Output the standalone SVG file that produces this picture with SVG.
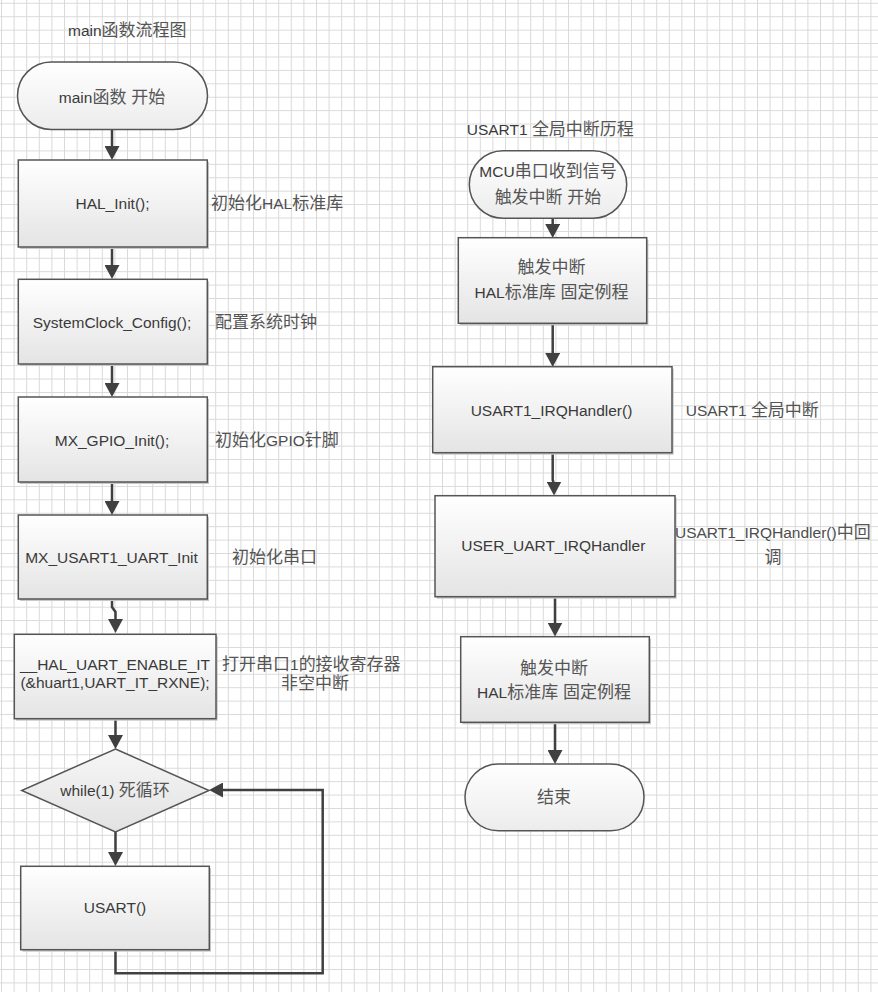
<svg xmlns="http://www.w3.org/2000/svg" width="878" height="992" viewBox="0 0 878 992">
<style>
text{font-family:"Liberation Sans","Noto Sans CJK SC",sans-serif;font-size:15.5px;fill:#3a3a3a}
.m{text-anchor:middle}
.lb{fill:#4d4d4d}
.c{font-size:17px;fill:#555}
.box{fill:url(#gBox);stroke:#555;stroke-width:1.5}
.term{fill:url(#gTerm);stroke:#555;stroke-width:1.5}
.dia{fill:url(#gDia);stroke:#555;stroke-width:1.5}
.sh{fill:#c8c8c8}
.cn{fill:none;stroke:#404040;stroke-width:2.5}
.ar{marker-end:url(#arr)}
</style>
<defs>
<pattern id="grid" patternUnits="userSpaceOnUse" x="1" y="2.8" width="12.6" height="13.42">
<path d="M0.5 0V13.42M0 0.5H12.6" fill="none" stroke="#d9d9d9" stroke-width="1"/>
</pattern>
<linearGradient id="gBox" x1="0" y1="0" x2="0" y2="1"><stop offset="0" stop-color="#ffffff"/><stop offset="1" stop-color="#e4e4e4"/></linearGradient>
<linearGradient id="gTerm" x1="0" y1="0" x2="0" y2="1"><stop offset="0" stop-color="#ffffff"/><stop offset="1" stop-color="#ececec"/></linearGradient>
<linearGradient id="gDia" x1="0" y1="0" x2="0" y2="1"><stop offset="0" stop-color="#f6f6f6"/><stop offset="1" stop-color="#e2e2e2"/></linearGradient>
<marker id="arr" markerUnits="userSpaceOnUse" viewBox="0 0 14 15" refX="4" refY="7.5" markerWidth="14" markerHeight="15" orient="auto">
<path d="M0 0L14 7.5L0 15z" fill="#404040"/>
</marker>
</defs>
<rect width="878" height="992" fill="#ffffff"/>
<rect width="878" height="992" fill="url(#grid)"/>

<text x="68" y="36">main<tspan class="c">函数流程图</tspan></text>
<text x="466.7" y="135">USART1 <tspan class="c">全局中断历程</tspan></text>

<g id="connectors">
<path class="cn ar" d="M112 129V150"/>
<path class="cn ar" d="M112 247V269"/>
<path class="cn ar" d="M112 364V387"/>
<path class="cn ar" d="M112 482V505"/>
<path class="cn ar" d="M112 599V607L115.5 612V623"/>
<path class="cn ar" d="M115.5 719V739"/>
<path class="cn ar" d="M115.5 832V856"/>
<path class="cn ar" d="M115.5 950V973.3H322.7V790H219"/>
<path class="cn ar" d="M552.7 218V228"/>
<path class="cn ar" d="M552.7 323V357"/>
<path class="cn ar" d="M552.7 453V480L554 484V485.5"/>
<path class="cn ar" d="M555 597V626.5"/>
<path class="cn ar" d="M555 722V754"/>
</g>

<g id="n_start">
<rect class="term" x="17.5" y="62" width="190" height="67.5" rx="33.7"/>
<text class="m" x="112" y="102.5">main<tspan class="c">函数 开始</tspan></text>
</g>
<g id="n_halinit">
<rect class="sh" x="20" y="162" width="189" height="87"/>
<rect class="box" x="18.3" y="160" width="189" height="87"/>
<text class="m" x="112.5" y="209">HAL_Init();</text>
<text class="lb" x="211" y="209"><tspan class="c">初始化</tspan>HAL<tspan class="c">标准库</tspan></text>
</g>
<g id="n_sysclk">
<rect class="sh" x="20" y="281.3" width="189" height="84.7"/>
<rect class="box" x="18.3" y="279.3" width="189" height="84.7"/>
<text class="m" x="112" y="328">SystemClock_Config();</text>
<text class="lb" x="215" y="328"><tspan class="c">配置系统时钟</tspan></text>
</g>
<g id="n_gpio">
<rect class="sh" x="20" y="399" width="189" height="85"/>
<rect class="box" x="18.3" y="397" width="189" height="85"/>
<text class="m" x="112" y="446">MX_GPIO_Init();</text>
<text class="lb" x="215" y="446"><tspan class="c">初始化</tspan>GPIO<tspan class="c">针脚</tspan></text>
</g>
<g id="n_usart_init">
<rect class="sh" x="20" y="517" width="189" height="84"/>
<rect class="box" x="18.3" y="515" width="189" height="84"/>
<text class="m" x="111.5" y="562.7">MX_USART1_UART_Init</text>
<text class="lb" x="232" y="563"><tspan class="c">初始化串口</tspan></text>
</g>
<g id="n_enable_it">
<rect class="sh" x="16" y="636.3" width="201.7" height="84.4"/>
<rect class="box" x="14.3" y="634.3" width="201.7" height="84.4"/>
<text class="m" x="115" y="669.5">__HAL_UART_ENABLE_IT</text>
<text class="m" x="115" y="687.5">(&amp;huart1,UART_IT_RXNE);</text>
<text class="lb" x="222" y="670"><tspan class="c">打开串口</tspan>1<tspan class="c">的接收寄存器</tspan></text>
<text class="lb m" x="315" y="689"><tspan class="c">非空中断</tspan></text>
</g>
<g id="n_while">
<path class="dia" d="M115.5 749L209 790.5L115.5 832L21.7 790.5z"/>
<text class="m" x="115" y="796">while(1) <tspan class="c">死循环</tspan></text>
</g>
<g id="n_usart">
<rect class="sh" x="22.4" y="868.3" width="188.6" height="83.4"/>
<rect class="box" x="20.7" y="866.3" width="188.6" height="83.4"/>
<text class="m" x="115" y="912.7">USART()</text>
</g>

<g id="n_irq_start">
<rect class="term" x="469.3" y="150.7" width="157.4" height="67.6" rx="33.8"/>
<text class="m" x="548" y="176.7">MCU<tspan class="c">串口收到信号</tspan></text>
<text class="m" x="548" y="202.7"><tspan class="c">触发中断 开始</tspan></text>
</g>
<g id="n_hal_fixed1">
<rect class="sh" x="460" y="239.7" width="188.4" height="85.6"/>
<rect class="box" x="458.3" y="237.7" width="188.4" height="85.6"/>
<text class="m" x="551.5" y="273.3"><tspan class="c">触发中断</tspan></text>
<text class="m" x="551.5" y="298.3">HAL<tspan class="c">标准库 固定例程</tspan></text>
</g>
<g id="n_irqhandler">
<rect class="sh" x="434.4" y="368.7" width="239.3" height="86"/>
<rect class="box" x="432.7" y="366.7" width="239.3" height="86"/>
<text class="m" x="551.5" y="415.7">USART1_IRQHandler()</text>
<text class="lb" x="685.7" y="416">USART1 <tspan class="c">全局中断</tspan></text>
</g>
<g id="n_user_irq">
<rect class="sh" x="436.7" y="497.7" width="240" height="101"/>
<rect class="box" x="435" y="495.7" width="240" height="101"/>
<text class="m" x="553.3" y="550.7">USER_UART_IRQHandler</text>
<text class="lb" x="675" y="538.3">USART1_IRQHandler()<tspan class="c">中回</tspan></text>
<text class="lb m" x="773" y="563.3"><tspan class="c">调</tspan></text>
</g>
<g id="n_hal_fixed2">
<rect class="sh" x="462.4" y="638.7" width="188.6" height="85.6"/>
<rect class="box" x="460.7" y="636.7" width="188.6" height="85.6"/>
<text class="m" x="554" y="674"><tspan class="c">触发中断</tspan></text>
<text class="m" x="554" y="698.3">HAL<tspan class="c">标准库 固定例程</tspan></text>
</g>
<g id="n_end">
<rect class="term" x="465" y="764" width="179" height="66.7" rx="33.3"/>
<text class="m" x="554" y="803.3"><tspan class="c">结束</tspan></text>
</g>
</svg>
